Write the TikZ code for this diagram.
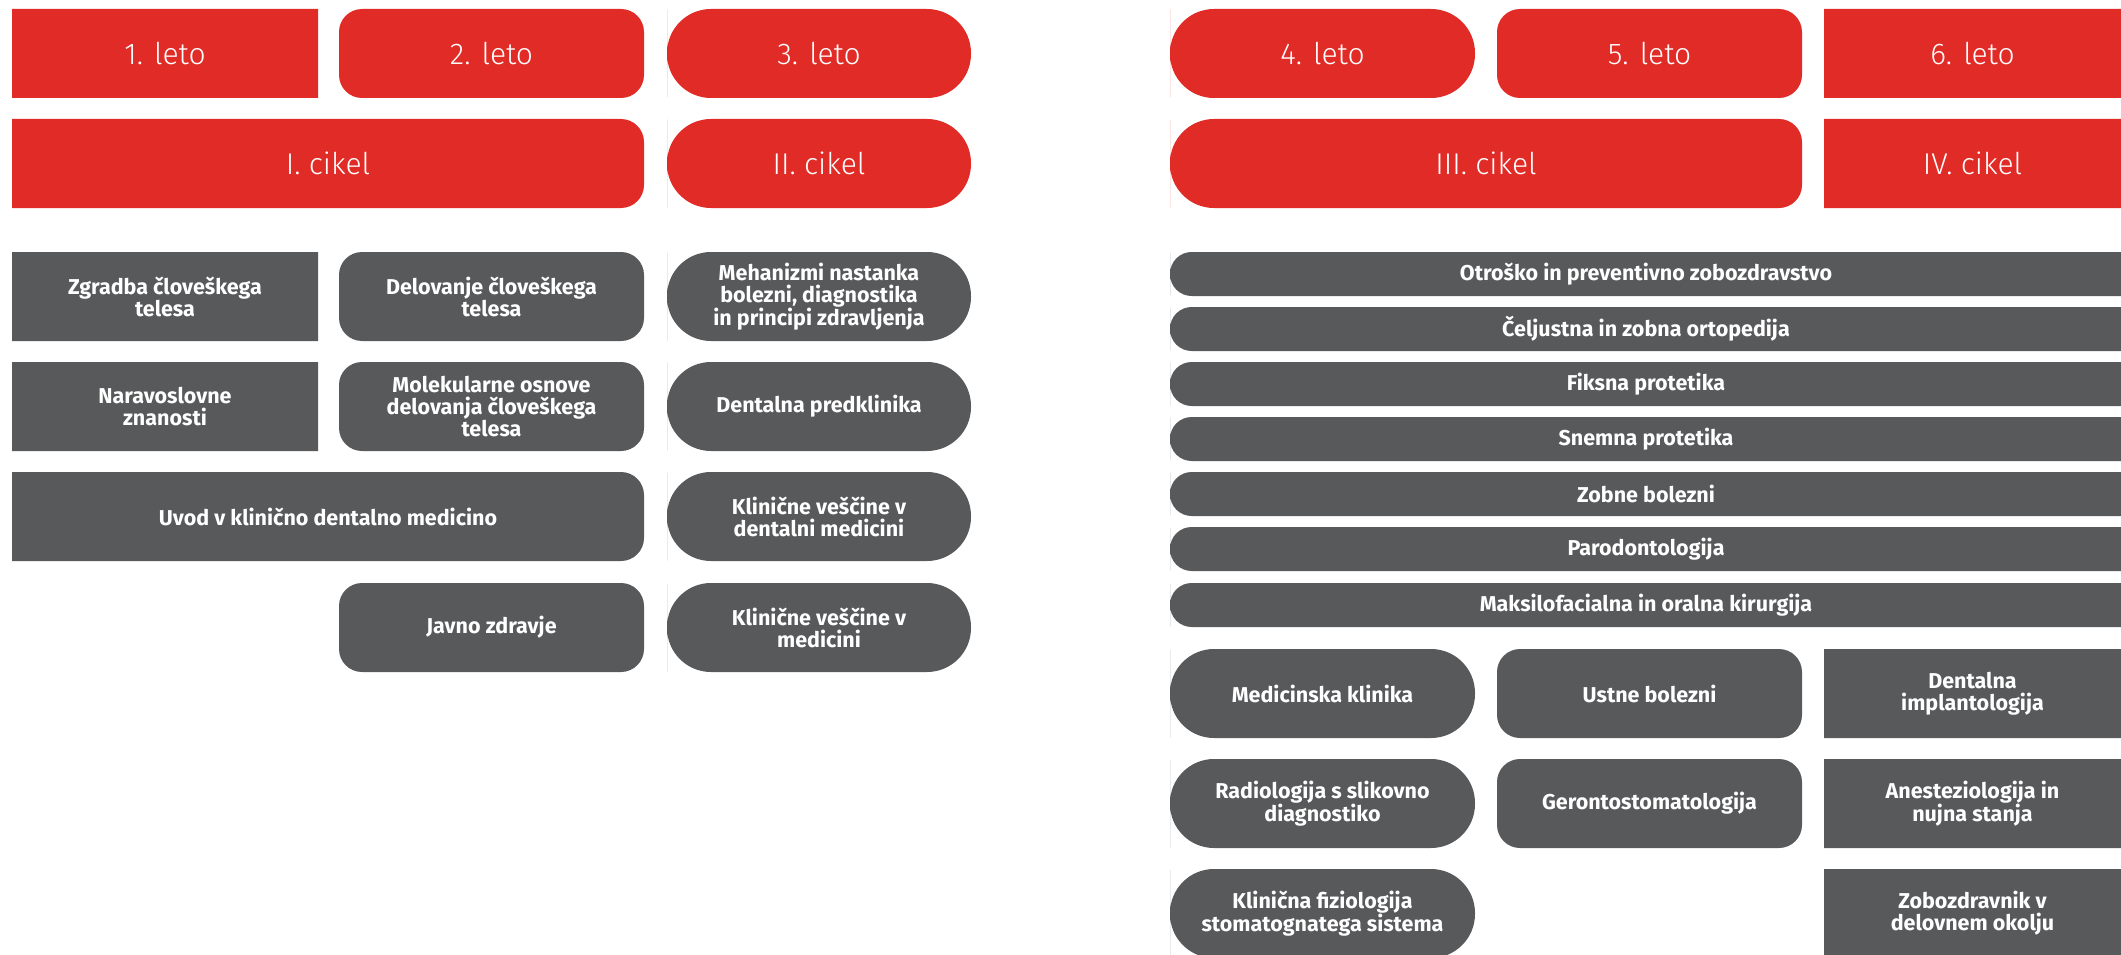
\documentclass[tikz,border=0pt]{standalone}
\usepackage{fontspec}
\setmainfont{Fira Sans}
\IfFontExistsTF{Fira Sans Light}{\newfontfamily\lightfont{Fira Sans Light}}{%
  \IfFontExistsTF{FiraSans-Light.otf}{\newfontfamily\lightfont{FiraSans-Light.otf}}{\newfontfamily\lightfont{Fira Sans}}}
\definecolor{myred}{HTML}{E12B26}
\definecolor{mygray}{HTML}{58595B}
\tikzset{
 hd/.style={text=white, font=\lightfont\fontsize{30}{35}\selectfont, align=center, inner sep=0pt},
 bd/.style={text=white, font=\bfseries\fontsize{21.5}{22}\selectfont, align=center, inner sep=0pt},
 sq/.style={sharp corners},
 rc/.style={rounded corners=23pt},
 pl/.style={rounded corners=44pt},
 pls/.style={rounded corners=21.7pt}
}
% x1 y1 x2 y2 leftstyle rightstyle colour
\newcommand\shp[7]{%
 \pgfmathsetmacro\shpym{(#2+#4)/2}\pgfmathsetmacro\shpxm{(#1+#3)/2}%
 \fill[#7] (#1,\shpym) [#5] -- (#1,#2) -- (\shpxm,#2) [#6] -- (#3,#2) -- (#3,#4) -- (\shpxm,#4) [#5] -- (#1,#4) -- cycle;}
\begin{document}
\begin{tikzpicture}[x=1pt,y=-1pt]
\useasboundingbox (0,0) rectangle (2121,955);
\clip (0,0) rectangle (2121,955);
% ---------- header rows ----------
\shp{12}{9}{318}{98}{sq}{sq}{myred}
\shp{339}{9}{644}{98}{rc}{rc}{myred}
\shp{667}{9}{971}{98}{pl}{pl}{myred}
\shp{1170}{9}{1475}{98}{pl}{pl}{myred}
\shp{1497}{9}{1802}{98}{rc}{rc}{myred}
\shp{1824}{9}{2140}{98}{sq}{sq}{myred}
\shp{12}{119}{644}{208}{sq}{rc}{myred}
\shp{667}{119}{971}{208}{pl}{pl}{myred}
\shp{1170}{119}{1802}{208}{pl}{rc}{myred}
\shp{1824}{119}{2140}{208}{sq}{sq}{myred}
\node[hd] (y1) at (165,53.5) {1. leto};
\node[hd] (y2) at (491.5,53.5) {2. leto};
\node[hd] (y3) at (819,53.5) {3. leto};
\node[hd] (y4) at (1322.5,53.5) {4. leto};
\node[hd] (y5) at (1649.5,53.5) {5. leto};
\node[hd] (y6) at (1972.5,53.5) {6. leto};
\node[hd] (c1) at (328,163.5) {I. cikel};
\node[hd] (c2) at (819,163.5) {II. cikel};
\node[hd] (c3) at (1486,163.5) {III. cikel};
\node[hd] (c4) at (1972.5,163.5) {IV. cikel};
% ---------- left block ----------
\shp{12}{252}{318}{341}{sq}{sq}{mygray}
\shp{339}{252}{644}{341}{rc}{rc}{mygray}
\shp{667}{252}{971}{341}{pl}{pl}{mygray}
\shp{12}{362}{318}{451}{sq}{sq}{mygray}
\shp{339}{362}{644}{451}{rc}{rc}{mygray}
\shp{667}{362}{971}{451}{pl}{pl}{mygray}
\shp{12}{472}{644}{561}{sq}{rc}{mygray}
\shp{667}{472}{971}{561}{pl}{pl}{mygray}
\shp{339}{583}{644}{672}{rc}{rc}{mygray}
\shp{667}{583}{971}{672}{pl}{pl}{mygray}
\node[bd] (zg) at (165,296.5) {Zgradba človeškega\\telesa};
\node[bd] (de) at (491.5,296.5) {Delovanje človeškega\\telesa};
\node[bd] (me) at (819,296.5) {Mehanizmi nastanka\\bolezni, diagnostika\\in principi zdravljenja};
\node[bd] (na) at (165,406.5) {Naravoslovne\\znanosti};
\node[bd] (mo) at (491.5,406.5) {Molekularne osnove\\delovanja človeškega\\telesa};
\node[bd] (dp) at (819,406.5) {Dentalna predklinika};
\node[bd] (uv) at (328,516.5) {Uvod v klinično dentalno medicino};
\node[bd] (kd) at (819,516.5) {Klinične veščine v\\dentalni medicini};
\node[bd] (jz) at (491.5,627.5) {Javno zdravje};
\node[bd] (km) at (819,627.5) {Klinične veščine v\\medicini};
% ---------- right bars ----------
\shp{1170}{252}{2140}{296}{pls}{sq}{mygray}
\shp{1170}{307}{2140}{351}{pls}{sq}{mygray}
\shp{1170}{362}{2140}{406}{pls}{sq}{mygray}
\shp{1170}{417}{2140}{461}{pls}{sq}{mygray}
\shp{1170}{472}{2140}{516}{pls}{sq}{mygray}
\shp{1170}{527}{2140}{571}{pls}{sq}{mygray}
\shp{1170}{583}{2140}{627}{pls}{sq}{mygray}
\node[bd] (b1) at (1646,274) {Otroško in preventivno zobozdravstvo};
\node[bd] (b2) at (1646,329) {Čeljustna in zobna ortopedija};
\node[bd] (b3) at (1646,384) {Fiksna protetika};
\node[bd] (b4) at (1646,439) {Snemna protetika};
\node[bd] (b5) at (1646,494) {Zobne bolezni};
\node[bd] (b6) at (1646,549) {Parodontologija};
\node[bd] (b7) at (1646,605) {Maksilofacialna in oralna kirurgija};
% ---------- right bottom ----------
\shp{1170}{649}{1475}{738}{pl}{pl}{mygray}
\shp{1497}{649}{1802}{738}{rc}{rc}{mygray}
\shp{1824}{649}{2140}{738}{sq}{sq}{mygray}
\shp{1170}{759}{1475}{848}{pl}{pl}{mygray}
\shp{1497}{759}{1802}{848}{rc}{rc}{mygray}
\shp{1824}{759}{2140}{848}{sq}{sq}{mygray}
\shp{1170}{869}{1475}{958}{pl}{pl}{mygray}
\shp{1824}{869}{2140}{958}{sq}{sq}{mygray}
\node[bd] (mk) at (1322.5,693.5) {Medicinska klinika};
\node[bd] (ub) at (1649.5,693.5) {Ustne bolezni};
\node[bd] (di) at (1972.5,693.5) {Dentalna\\implantologija};
\node[bd] (ra) at (1322.5,803.5) {Radiologija s slikovno\\diagnostiko};
\node[bd] (ge) at (1649.5,803.5) {Gerontostomatologija};
\node[bd] (an) at (1972.5,803.5) {Anesteziologija in\\nujna stanja};
\node[bd] (kf) at (1322.5,913.5) {Klinična fiziologija\\stomatognatega sistema};
\node[bd] (zo) at (1972.5,913.5) {Zobozdravnik v\\delovnem okolju};
\end{tikzpicture}
\end{document}
